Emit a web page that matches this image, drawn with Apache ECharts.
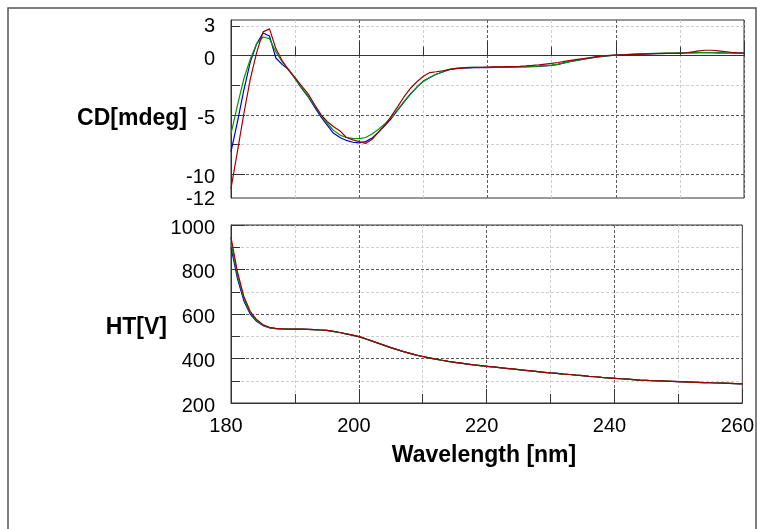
<!DOCTYPE html>
<html>
<head>
<meta charset="utf-8">
<script src="https://cdn.jsdelivr.net/npm/echarts@6/dist/echarts.min.js"></script>
<style>
html,body{margin:0;padding:0;background:#fff;}
#chart{width:757px;height:529px;}
</style>
</head>
<body>
<div id="chart"></div>
<script>
const wavelength = [180,181,182,183,184,185,186,187,188,189,190,191,192,193,194,195,196,197,198,199,200,201,202,203,204,205,206,207,208,209,210,211,212,213,214,215,216,217,218,219,220,221,222,223,224,225,226,227,228,229,230,231,232,233,234,235,236,237,238,239,240,241,242,243,244,245,246,247,248,249,250,251,252,253,254,255,256,257,258,259,260];

const cdBlue = [-8.1,-5.6,-2.9,-0.55,1.0,1.9,1.65,-0.2,-0.76,-1.18,-1.94,-2.75,-3.45,-4.3,-5.15,-5.85,-6.55,-6.9,-7.15,-7.3,-7.35,-7.25,-6.95,-6.45,-5.9,-5.3,-4.6,-3.9,-3.25,-2.65,-2.15,-1.85,-1.57,-1.38,-1.18,-1.1,-1.05,-1.03,-1.02,-1.01,-1.01,-1.0,-0.99,-0.98,-0.97,-0.96,-0.95,-0.93,-0.9,-0.86,-0.82,-0.74,-0.62,-0.5,-0.4,-0.3,-0.22,-0.13,-0.06,0.0,0.03,0.06,0.08,0.1,0.12,0.14,0.16,0.18,0.19,0.2,0.21,0.22,0.23,0.24,0.24,0.24,0.23,0.22,0.22,0.21,0.21];
const cdGreen = [-6.6,-4.2,-1.95,-0.3,1.0,1.57,1.43,0.3,-0.54,-1.18,-1.95,-2.7,-3.4,-4.2,-5.0,-5.7,-6.3,-6.7,-6.9,-6.98,-7.0,-6.9,-6.6,-6.2,-5.75,-5.2,-4.55,-3.85,-3.2,-2.65,-2.15,-1.85,-1.57,-1.38,-1.15,-1.08,-1.03,-1.0,-0.99,-0.98,-0.98,-0.97,-0.97,-0.96,-0.95,-0.94,-0.92,-0.9,-0.88,-0.85,-0.8,-0.72,-0.6,-0.48,-0.38,-0.28,-0.2,-0.12,-0.05,0.0,0.04,0.07,0.1,0.12,0.14,0.16,0.18,0.2,0.21,0.22,0.23,0.24,0.25,0.25,0.25,0.24,0.23,0.22,0.22,0.22,0.22];
const cdRed = [-11.2,-8.1,-4.9,-2.0,0.25,2.0,2.25,0.59,-0.45,-1.24,-1.85,-2.55,-3.2,-4.1,-4.95,-5.55,-6.0,-6.35,-6.9,-7.1,-7.25,-7.4,-7.05,-6.45,-5.85,-5.1,-4.3,-3.45,-2.75,-2.2,-1.74,-1.43,-1.36,-1.28,-1.18,-1.1,-1.05,-1.02,-1.0,-0.98,-0.96,-0.95,-0.94,-0.93,-0.92,-0.9,-0.87,-0.83,-0.78,-0.72,-0.66,-0.58,-0.48,-0.4,-0.32,-0.25,-0.17,-0.08,-0.02,0.02,0.04,0.06,0.08,0.1,0.12,0.14,0.16,0.17,0.18,0.19,0.2,0.24,0.32,0.4,0.45,0.45,0.4,0.34,0.28,0.24,0.22];

const htBlue = [900,760,660,600,567,548,538,534,533,532,532,532,531,530,528,526,522,517,511,505,498,489,479,469,459,449,440,431,423,415,409,403,397,392,387,383,379,375,371,368,365,362,359,356,353,350,347,344,341,338,335,333,330,328,325,323,320,318,315,313,311,309,307,305,303,302,300,299,298,297,296,295,294,293,292,291,290,289,288,287,286];
const htGreen = [920,775,670,606,571,550,539,534,533,532,532,532,531,530,528,526,522,517,511,505,498,489,479,469,459,449,440,431,423,415,409,403,397,392,387,383,379,375,371,368,365,362,359,356,353,350,347,344,341,338,335,333,330,328,325,323,320,318,315,313,311,309,307,305,303,302,300,299,298,297,296,295,294,293,292,291,290,289,288,287,286];
const htRed = [945,790,680,612,575,552,540,535,533,532,532,532,531,530,528,526,522,517,511,505,498,489,479,469,459,449,440,431,423,415,409,403,397,392,387,383,379,375,371,368,365,362,359,356,353,350,347,344,341,338,335,333,330,328,325,323,320,318,315,313,311,309,307,305,303,302,300,299,298,297,296,295,294,293,292,291,290,289,288,287,286];

const xTicks = [180,200,220,240,260];
const cdLabels = [3,0,-5,-10,-12];
const cdMajor = [0,-5,-10];
const cdMinor = [2.5,-2.5,-7.5];
const htTicks = [200,400,600,800,1000];

const seriesColors = ['#0000cc', '#009a00', '#a00000'];
const FONT = 'Liberation Sans, Arial, sans-serif';
const majorGrid = {show:true, lineStyle:{color:'#5a5a5a', width:1, type:[3,2]}};
const minorGrid = {show:true, lineStyle:{color:'#cfcfcf', width:1, type:[3,2]}};
const plain = v => String(v);

function pairs(arr){ return wavelength.map((w,i)=>[w, arr[i]]); }

const chart = echarts.init(document.getElementById('chart'), null, {renderer:'canvas'});

function xAxisCfg(gi, showLabels){
  return {
    type:'value', gridIndex:gi, min:180, max:260, interval:20,
    axisLine:{show:true, lineStyle:{color:'#333', width:1}},
    axisTick:{show:true, inside:true, length:14, lineStyle:{color:'#333'}},
    minorTick:{show:true, splitNumber:2, length:9, lineStyle:{color:'#333'}},
    splitLine:majorGrid,
    minorSplitLine:minorGrid,
    axisLabel:{show:showLabels, fontSize:20, color:'#000', fontFamily:FONT, margin:13, padding:[0,10,0,0],
      customValues: xTicks, formatter: plain}
  };
}

const option = {
  animation:false,
  backgroundColor:'#fff',
  graphic:[
    {type:'rect', shape:{x:8, y:8, width:748, height:600}, style:{fill:'none', stroke:'#555', lineWidth:1.5}, z:-10, silent:true},
    {type:'text', style:{text:'CD[mdeg]', x:187, y:119, align:'right', verticalAlign:'middle', font:'bold 23px Liberation Sans, Arial, sans-serif', fill:'#000'}},
    {type:'text', style:{text:'HT[V]', x:167, y:328, align:'right', verticalAlign:'middle', font:'bold 23px Liberation Sans, Arial, sans-serif', fill:'#000'}},
    {type:'text', style:{text:'Wavelength [nm]', x:484, y:456, align:'center', verticalAlign:'middle', font:'bold 23px Liberation Sans, Arial, sans-serif', fill:'#000'}}
  ],
  grid:[
    {left:231, top:20, width:513, height:178, show:true, borderColor:'#333', borderWidth:1, backgroundColor:'transparent'},
    {left:231, top:225, width:513, height:178, show:true, borderColor:'#333', borderWidth:1, backgroundColor:'transparent'}
  ],
  xAxis:[ xAxisCfg(0,false), xAxisCfg(1,true) ],
  yAxis:[
    {
      type:'value', gridIndex:0, min:-12, max:3, position:'left',
      axisLine:{show:true, lineStyle:{color:'#333'}},
      axisTick:{show:true, inside:true, length:14, lineStyle:{color:'#333'}, customValues:cdMajor},
      splitLine:majorGrid,
      axisLabel:{show:true, fontSize:20, color:'#000', fontFamily:FONT, margin:16, customValues:cdLabels,
        formatter: v => (v === -12 ? '{e|' + v + '}' : (v === 3 ? '{t|' + v + '}' : '{n|' + v + '}')),
        rich:{
          n:{fontSize:20, color:'#000', fontFamily:FONT, padding:[7,0,0,0]},
          t:{fontSize:20, color:'#000', fontFamily:FONT, padding:[12,0,0,0]},
          e:{fontSize:20, color:'#000', fontFamily:FONT, padding:[2,0,0,0]}
        }}
    },
    {
      type:'value', gridIndex:0, min:-12, max:3, position:'left',
      axisLine:{show:false},
      axisTick:{show:true, inside:true, length:9, lineStyle:{color:'#333'}, customValues:cdMinor},
      splitLine:minorGrid,
      axisLabel:{show:false}
    },
    {
      type:'value', gridIndex:1, min:200, max:1000, interval:200, position:'left',
      axisLine:{show:true, lineStyle:{color:'#333'}},
      axisTick:{show:true, inside:true, length:14, lineStyle:{color:'#333'}},
      minorTick:{show:true, splitNumber:2, length:9, lineStyle:{color:'#333'}},
      splitLine:majorGrid,
      minorSplitLine:minorGrid,
      axisLabel:{show:true, fontSize:20, color:'#000', fontFamily:FONT, margin:16, lineHeight:6, customValues:htTicks, formatter: v => '\n' + v}
    }
  ],
  series:[
    {type:'line', xAxisIndex:0, yAxisIndex:0, data:pairs(cdBlue), showSymbol:false, lineStyle:{color:seriesColors[0], width:1.2}, z:3},
    {type:'line', xAxisIndex:0, yAxisIndex:0, data:pairs(cdGreen), showSymbol:false, lineStyle:{color:seriesColors[1], width:1.2}, z:4},
    {type:'line', xAxisIndex:0, yAxisIndex:0, data:pairs(cdRed), showSymbol:false, lineStyle:{color:seriesColors[2], width:1.2}, z:5},
    {type:'line', xAxisIndex:1, yAxisIndex:2, data:pairs(htBlue), showSymbol:false, lineStyle:{color:seriesColors[0], width:1.2}, z:3},
    {type:'line', xAxisIndex:1, yAxisIndex:2, data:pairs(htGreen), showSymbol:false, lineStyle:{color:seriesColors[1], width:1.2}, z:4},
    {type:'line', xAxisIndex:1, yAxisIndex:2, data:pairs(htRed), showSymbol:false, lineStyle:{color:seriesColors[2], width:1.2}, z:5}
  ]
};
chart.setOption(option);
</script>
</body>
</html>
